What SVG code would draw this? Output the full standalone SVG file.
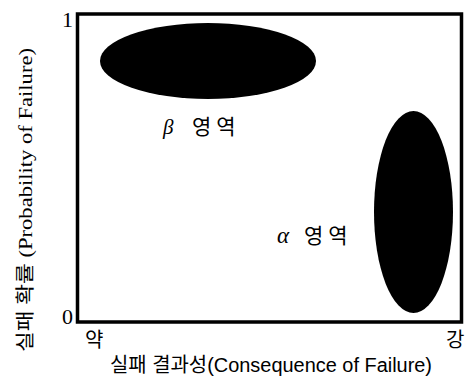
<svg xmlns="http://www.w3.org/2000/svg" width="471" height="385" viewBox="0 0 471 385">
<style>
.ser{font-family:"Liberation Serif","Noto Sans CJK KR",serif;fill:#000}
.san{font-family:"Liberation Sans","Noto Sans CJK KR",sans-serif;fill:#000}
.kr{font-family:"Noto Sans CJK KR",sans-serif;fill:#000}
.blob{fill:#000}
</style>
<rect width="471" height="385" fill="#fff"/>
<g id="frame">
<path d="M77.5,14 H461.5 V322 H77.5 Z" fill="none" stroke="#000" stroke-width="3.5"/>
</g>
<g id="beta-region">
<ellipse class="blob" cx="208" cy="61" rx="108" ry="38"/>
<text class="ser" x="163" y="134" font-size="21" font-style="italic">β</text>
<text class="kr" x="192" y="134" font-size="21" letter-spacing="5">영역</text>
</g>
<g id="alpha-region">
<ellipse class="blob" cx="413.5" cy="212" rx="39.5" ry="101"/>
<text class="ser" x="277" y="243" font-size="23" font-style="italic">α</text>
<text class="kr" x="304" y="243" font-size="21" letter-spacing="5">영역</text>
</g>
<g id="axis-labels">
<text class="ser" x="62" y="27" font-size="22">1</text>
<text class="ser" x="62" y="324" font-size="22">0</text>
<text class="kr" x="85" y="347" font-size="20">약</text>
<text class="kr" x="446" y="347" font-size="20">강</text>
<text class="san" x="110" y="372" font-size="20" textLength="322" lengthAdjust="spacingAndGlyphs">실패 결과성(Consequence of Failure)</text>
<text class="ser" transform="translate(32,352) rotate(-90)" x="0" y="0" font-size="19" textLength="304" lengthAdjust="spacingAndGlyphs">실패 확률 (Probability of Failure)</text>
</g>
<g id="connectors"></g>
</svg>
